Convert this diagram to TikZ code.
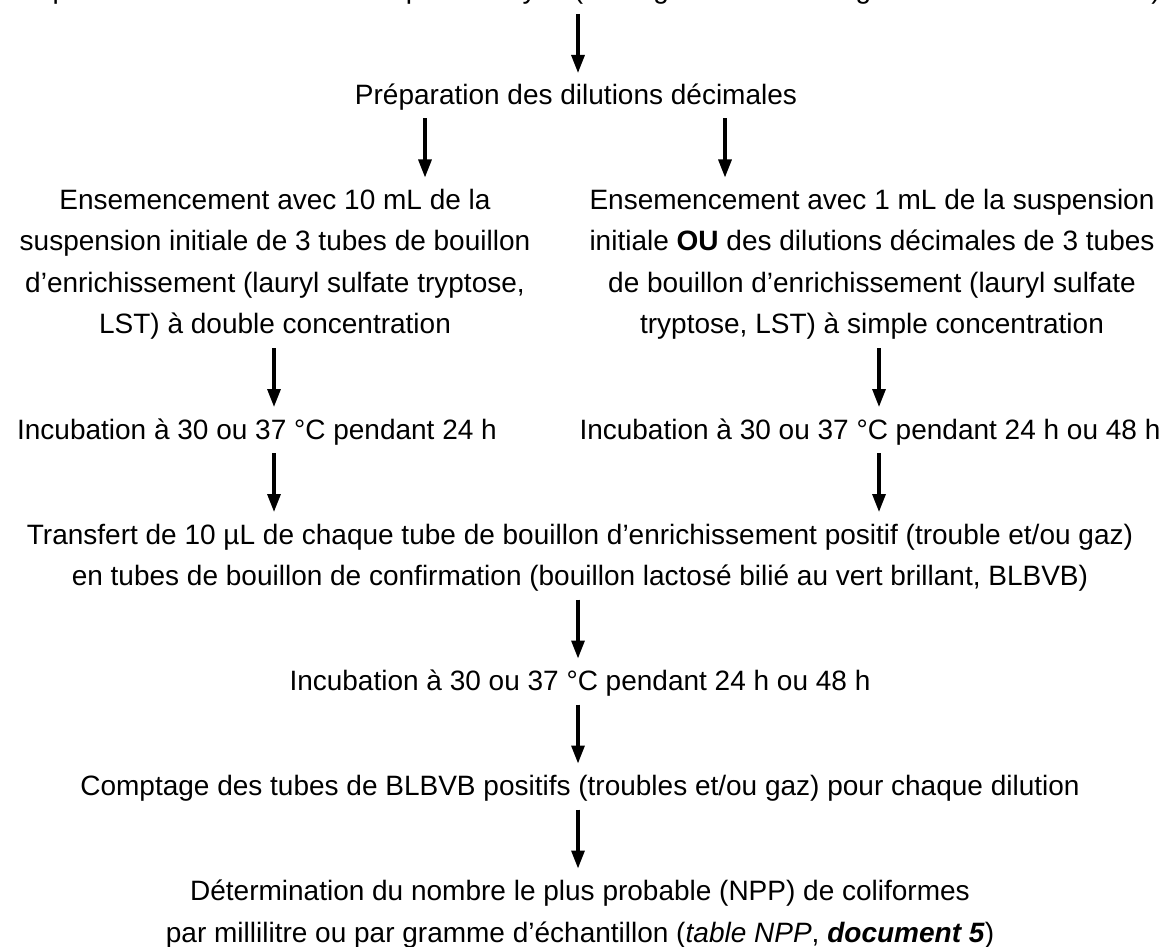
\documentclass[tikz,border=0pt]{standalone}
\usepackage{fontspec}
\setmainfont{Liberation Sans}
\usetikzlibrary{arrows.meta}
\begin{document}
\begin{tikzpicture}[x=1pt,y=-1pt,
  txt/.style={font=\fontsize{28}{41.5}\selectfont, align=center, inner sep=0pt},
  arr/.style={line width=3.2pt, -{Triangle[length=18pt,width=13pt]}}]
\useasboundingbox (0,0) rectangle (1162,947);
% texts
\node[txt,anchor=base] (top) at (585,-1) {Préparation de la solution mère pour analyse (homogénéisation à l’agitateur de tubes Vortex)};
\node[txt,anchor=base] (prep) at (576,104.5) {Préparation des dilutions décimales};
\node[txt,anchor=north] (ensL) at (275,189) {Ensemencement avec 10 mL de la\\suspension initiale de 3 tubes de bouillon\\d’enrichissement (lauryl sulfate tryptose,\\LST) à double concentration};
\node[txt,anchor=north] (ensR) at (872,189) {Ensemencement avec 1 mL de la suspension\\initiale \textbf{OU} des dilutions décimales de 3 tubes\\de bouillon d’enrichissement (lauryl sulfate\\tryptose, LST) à simple concentration};
\node[txt,anchor=base] (incL) at (257,439) {Incubation à 30 ou 37 °C pendant 24 h};
\node[txt,anchor=base] (incR) at (870,439) {Incubation à 30 ou 37 °C pendant 24 h ou 48 h};
\node[txt,anchor=north] (trans) at (580,523.6) {Transfert de 10 µL de chaque tube de bouillon d’enrichissement positif (trouble et/ou gaz)\\en tubes de bouillon de confirmation (bouillon lactosé bilié au vert brillant, BLBVB)};
\node[txt,anchor=base] (inc2) at (580,690.5) {Incubation à 30 ou 37 °C pendant 24 h ou 48 h};
\node[txt,anchor=base] (compt) at (580,795.5) {Comptage des tubes de BLBVB positifs (troubles et/ou gaz) pour chaque dilution};
\node[txt,anchor=north] (det) at (580,880.1) {Détermination du nombre le plus probable (NPP) de coliformes\\par millilitre ou par gramme d’échantillon (\textit{table NPP}, \textbf{\textit{document 5}})};
% arrow ends
\coordinate (a1s) at (578,14);   \coordinate (a1e) at (578,73);
\coordinate (a2ls) at (425,118.5); \coordinate (a2le) at (425,177.5);
\coordinate (a2rs) at (725,118.5); \coordinate (a2re) at (725,177.5);
\coordinate (a3ls) at (274,348); \coordinate (a3le) at (274,407);
\coordinate (a3rs) at (879,348); \coordinate (a3re) at (879,407);
\coordinate (a4ls) at (274,453); \coordinate (a4le) at (274,512);
\coordinate (a4rs) at (879,453); \coordinate (a4re) at (879,512);
\coordinate (a5s) at (578,599.5); \coordinate (a5e) at (578,658.5);
\coordinate (a6s) at (578,704.5); \coordinate (a6e) at (578,763.5);
\coordinate (a7s) at (578,809.5); \coordinate (a7e) at (578,868.5);
\draw[arr] (a1s) -- (a1e);
\draw[arr] (a2ls) -- (a2le);
\draw[arr] (a2rs) -- (a2re);
\draw[arr] (a3ls) -- (a3le);
\draw[arr] (a3rs) -- (a3re);
\draw[arr] (a4ls) -- (a4le);
\draw[arr] (a4rs) -- (a4re);
\draw[arr] (a5s) -- (a5e);
\draw[arr] (a6s) -- (a6e);
\draw[arr] (a7s) -- (a7e);
\end{tikzpicture}
\end{document}
